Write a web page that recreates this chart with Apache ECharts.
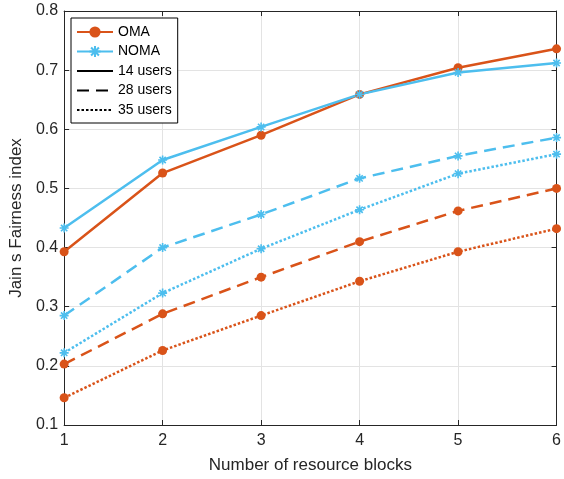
<!DOCTYPE html>
<html>
<head>
<meta charset="utf-8">
<script src="https://cdn.jsdelivr.net/npm/echarts@6/dist/echarts.min.js"></script>
<style>
html,body{margin:0;padding:0;background:#fff;}
#chart{width:564px;height:479px;}
</style>
</head>
<body>
<div id="chart"></div>
<script>
// ---- data ----
var resourceBlocks = [1, 2, 3, 4, 5, 6];
var oma14  = [0.393, 0.526, 0.590, 0.659, 0.704, 0.736];
var noma14 = [0.433, 0.548, 0.604, 0.659, 0.696, 0.712];
var oma28  = [0.203, 0.288, 0.350, 0.410, 0.462, 0.500];
var noma28 = [0.285, 0.400, 0.456, 0.517, 0.555, 0.586];
var oma35  = [0.146, 0.226, 0.285, 0.343, 0.393, 0.432];
var noma35 = [0.222, 0.323, 0.398, 0.464, 0.525, 0.558];
var yTicks = [0.1, 0.2, 0.3, 0.4, 0.5, 0.6, 0.7, 0.8];

var OMA_COLOR = '#D95319';
var NOMA_COLOR = '#4DBEEE';
var FONT = '"Liberation Sans", Arial, Helvetica, sans-serif';
var DASHED = [12, 7];
var DOTTED = [2.5, 2];

var asterisk = 'path://M0 4.1L10 4.1L10 5.9L0 5.9Z M4.1 0L5.9 0L5.9 10L4.1 10Z M0.86 2.14L2.14 0.86L9.14 7.86L7.86 9.14Z M7.86 0.86L9.14 2.14L2.14 9.14L0.86 7.86Z';

function pairs(ys) {
  return resourceBlocks.map(function (x, i) { return [x, ys[i]]; });
}

function mk(name, ys, color, dash, isOma) {
  return {
    name: name,
    type: 'line',
    data: pairs(ys),
    color: color,
    symbol: isOma ? 'circle' : asterisk,
    symbolSize: 9,
    showSymbol: true,
    lineStyle: { width: 2.5, type: dash, color: color },
    itemStyle: { color: color },
    emphasis: { disabled: true },
    animation: false
  };
}

function legendOnly(name, dash) {
  return {
    name: name,
    type: 'line',
    data: [],
    color: '#000',
    symbol: 'circle',
    symbolSize: 0,
    lineStyle: { width: 2.5, type: dash, color: '#000' },
    itemStyle: { color: 'rgba(0,0,0,0)', opacity: 0, borderWidth: 0 },
    animation: false
  };
}

var axisCol = '#262626';
var chart = echarts.init(document.getElementById('chart'), null, { renderer: 'canvas' });
chart.setOption({
  animation: false,
  backgroundColor: '#fff',
  textStyle: { fontFamily: FONT },
  grid: { left: 59, right: 5, top: 11, bottom: 54, containLabel: false },
  legend: {
    orient: 'vertical',
    left: 71,
    top: 18,
    padding: [7, 6, 6, 5],
    itemWidth: 36,
    itemHeight: 14,
    itemGap: 5.5,
    backgroundColor: '#fff',
    borderColor: '#000',
    borderWidth: 1,
    borderRadius: 0,
    selectedMode: false,
    textStyle: { fontSize: 14, color: '#000', fontFamily: FONT },
    data: ['OMA', 'NOMA', '14 users', '28 users', '35 users']
  },
  xAxis: [{
    type: 'value',
    min: 1, max: 6, interval: 1,
    name: 'Number of resource blocks',
    nameLocation: 'middle',
    nameGap: 32,
    nameTextStyle: { fontSize: 17, color: axisCol, fontFamily: FONT },
    axisLine: { show: true, onZero: false, lineStyle: { color: axisCol, width: 1 } },
    axisTick: { show: true, inside: true, length: 5, lineStyle: { color: axisCol } },
    axisLabel: { fontSize: 16, color: axisCol, margin: 8, fontFamily: FONT },
    splitLine: { show: true, lineStyle: { color: '#e3e3e3', width: 1 } }
  }, {
    type: 'value',
    position: 'top',
    min: 1, max: 6, interval: 1,
    axisLine: { show: true, onZero: false, lineStyle: { color: axisCol, width: 1 } },
    axisTick: { show: true, inside: true, length: 5, lineStyle: { color: axisCol } },
    axisLabel: { show: false },
    splitLine: { show: false }
  }],
  yAxis: [{
    type: 'value',
    min: 0.1, max: 0.8, interval: 0.1,
    name: 'Jain s Fairness index',
    nameLocation: 'middle',
    nameGap: 37,
    nameTextStyle: { fontSize: 17, color: axisCol, fontFamily: FONT },
    axisLine: { show: true, onZero: false, lineStyle: { color: axisCol, width: 1 } },
    axisTick: { show: true, inside: true, length: 5, lineStyle: { color: axisCol } },
    axisLabel: {
      fontSize: 16, color: axisCol, margin: 6, fontFamily: FONT,
      formatter: function (v) { return (Math.round(v * 10) / 10).toFixed(1); }
    },
    splitLine: { show: true, lineStyle: { color: '#e3e3e3', width: 1 } }
  }, {
    type: 'value',
    position: 'right',
    min: 0.1, max: 0.8, interval: 0.1,
    axisLine: { show: true, onZero: false, lineStyle: { color: axisCol, width: 1 } },
    axisTick: { show: true, inside: true, length: 5, lineStyle: { color: axisCol } },
    axisLabel: { show: false },
    splitLine: { show: false }
  }],
  series: [
    mk('OMA', oma14, OMA_COLOR, 'solid', true),
    mk('NOMA', noma14, NOMA_COLOR, 'solid', false),
    mk('OMA', oma28, OMA_COLOR, DASHED, true),
    mk('NOMA', noma28, NOMA_COLOR, DASHED, false),
    mk('OMA', oma35, OMA_COLOR, DOTTED, true),
    mk('NOMA', noma35, NOMA_COLOR, DOTTED, false),
    legendOnly('14 users', 'solid'),
    legendOnly('28 users', DASHED),
    legendOnly('35 users', DOTTED)
  ]
});
</script>
</body>
</html>
